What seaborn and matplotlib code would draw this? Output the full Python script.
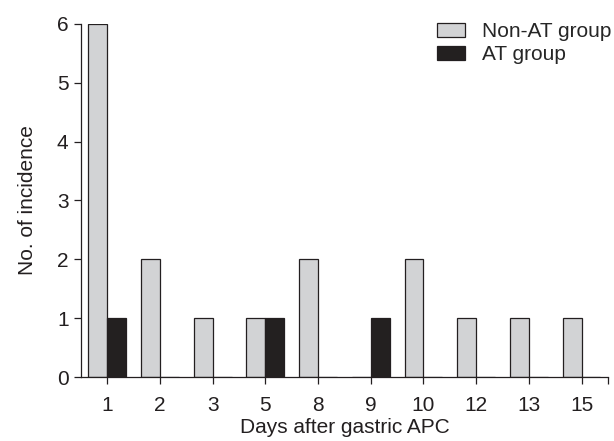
import pandas as pd
import seaborn as sns
import matplotlib.pyplot as plt

days = ["1", "2", "3", "5", "8", "9", "10", "12", "13", "15"]
non_at = [6, 2, 1, 1, 2, 0, 2, 1, 1, 1]
at = [1, 0, 0, 1, 0, 1, 0, 0, 0, 0]
groups = ["Non-AT group", "AT group"]

df = pd.DataFrame({
    "day": days * 2,
    "count": non_at + at,
    "group": [groups[0]] * len(days) + [groups[1]] * len(days),
})

sns.set_style("ticks")
plt.rcParams["font.family"] = ["Liberation Sans", "DejaVu Sans"]
ink = "#231f20"

fig = plt.figure(figsize=(6.14, 4.41), dpi=100)
ax = fig.add_axes([0.132, 0.145, 0.858, 0.801])

sns.barplot(data=df, x="day", y="count", hue="group", order=days, hue_order=groups,
            palette={"Non-AT group": "#d2d3d5", "AT group": ink},
            width=0.72, edgecolor=ink, linewidth=0.9, ax=ax)

ax.set_xlim(-0.5, 9.5)
ax.set_ylim(0, 6)
ax.set_yticks(range(0, 7))
ax.set_xticks([9.5], minor=True)
ax.tick_params(axis="both", which="both", direction="out", length=5, width=0.9,
               labelsize=15, colors=ink, labelcolor=ink)
ax.tick_params(axis="x", pad=9)
ax.tick_params(axis="y", pad=4)
ax.set_xlabel("Days after gastric APC", fontsize=15, color=ink, labelpad=2)
ax.set_ylabel("No. of incidence", fontsize=15, color=ink, labelpad=14)
for s in ["top", "right"]:
    ax.spines[s].set_visible(False)
for s in ["left", "bottom"]:
    ax.spines[s].set_linewidth(0.9)
    ax.spines[s].set_color(ink)

ax.legend(title=None, frameon=False, loc="upper left",
          bbox_to_anchor=(437 / 614, 1 - 22 / 441), bbox_transform=fig.transFigure,
          borderpad=0, borderaxespad=0,
          fontsize=15, handlelength=1.35, handleheight=0.67, labelspacing=0.2,
          handletextpad=0.8)

fig.savefig("out.png", dpi=100)
